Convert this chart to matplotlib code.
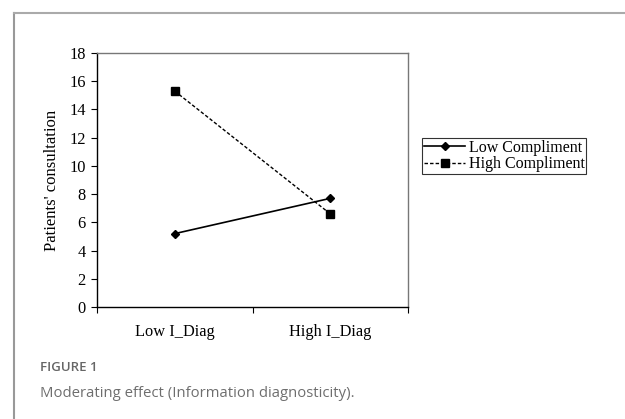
import matplotlib.pyplot as plt
from matplotlib.lines import Line2D

categories = ["Low I_Diag", "High I_Diag"]
low_compliment = [5.2, 7.7]
high_compliment = [15.3, 6.6]
series_labels = ["Low Compliment", "High Compliment"]

serif = "Liberation Serif"

fig = plt.figure(figsize=(6.25, 4.19), dpi=100)
ax = fig.add_axes([97 / 625, 1 - 307 / 419, 311 / 625, 254 / 419])

x = list(range(len(categories)))
ax.plot(x, low_compliment, color="black", lw=1.2, marker="D", markersize=4,
        label=series_labels[0])
ax.plot(x, high_compliment, color="black", lw=1.0, ls=(0, (2.5, 1.5)), marker="s",
        markersize=6, label=series_labels[1])

ax.set_xlim(-0.5, 1.5)
ax.set_ylim(0, 18)
ax.set_yticks(range(0, 19, 2))
ax.set_xticks(x)
ax.set_xticklabels(categories)
ax.set_xticks([-0.5, 0.5, 1.5], minor=True)
ax.tick_params(axis="x", which="major", length=0, pad=12)
ax.tick_params(axis="x", which="minor", length=4, direction="out", width=0.8)
ax.tick_params(axis="y", length=4, direction="out", width=0.8, pad=4)
for lbl in ax.get_xticklabels() + ax.get_yticklabels():
    lbl.set_fontfamily(serif)
    lbl.set_fontsize(11.8)

ax.set_ylabel("Patients' consultation", fontfamily=serif, fontsize=12, labelpad=7)

ax.spines["left"].set_color("black")
ax.spines["bottom"].set_color("black")
ax.spines["top"].set_color("#777777")
ax.spines["right"].set_color("#777777")
for s in ax.spines.values():
    s.set_linewidth(1.0)

leg = fig.legend(loc="upper left", bbox_to_anchor=(422 / 625, 1 - 138 / 419),
                 borderaxespad=0, frameon=True, fancybox=False, handlelength=2.6,
                 handletextpad=0.2, borderpad=0.12, labelspacing=0.02,
                 prop={"family": serif, "size": 11.5})
leg.get_frame().set_edgecolor("black")
leg.get_frame().set_linewidth(0.8)

# outer frame of the figure panel
fig.add_artist(Line2D([14 / 625, 14 / 625], [0, 1 - 13 / 419], color="#999999", lw=1.5))
fig.add_artist(Line2D([14 / 625, 1], [1 - 13 / 419, 1 - 13 / 419], color="#aaaaaa", lw=1.5))

fig.text(40 / 625, 1 - 367 / 419, "FIGURE 1", fontfamily="Open Sans", fontsize=9.5,
         fontweight="semibold", color="#666666", va="center")
fig.text(40 / 625, 1 - 393 / 419, "Moderating effect (Information diagnosticity).",
         fontfamily="Open Sans", fontsize=10.75, color="#6e6e6e", va="center")

fig.savefig("out.png", dpi=100)
